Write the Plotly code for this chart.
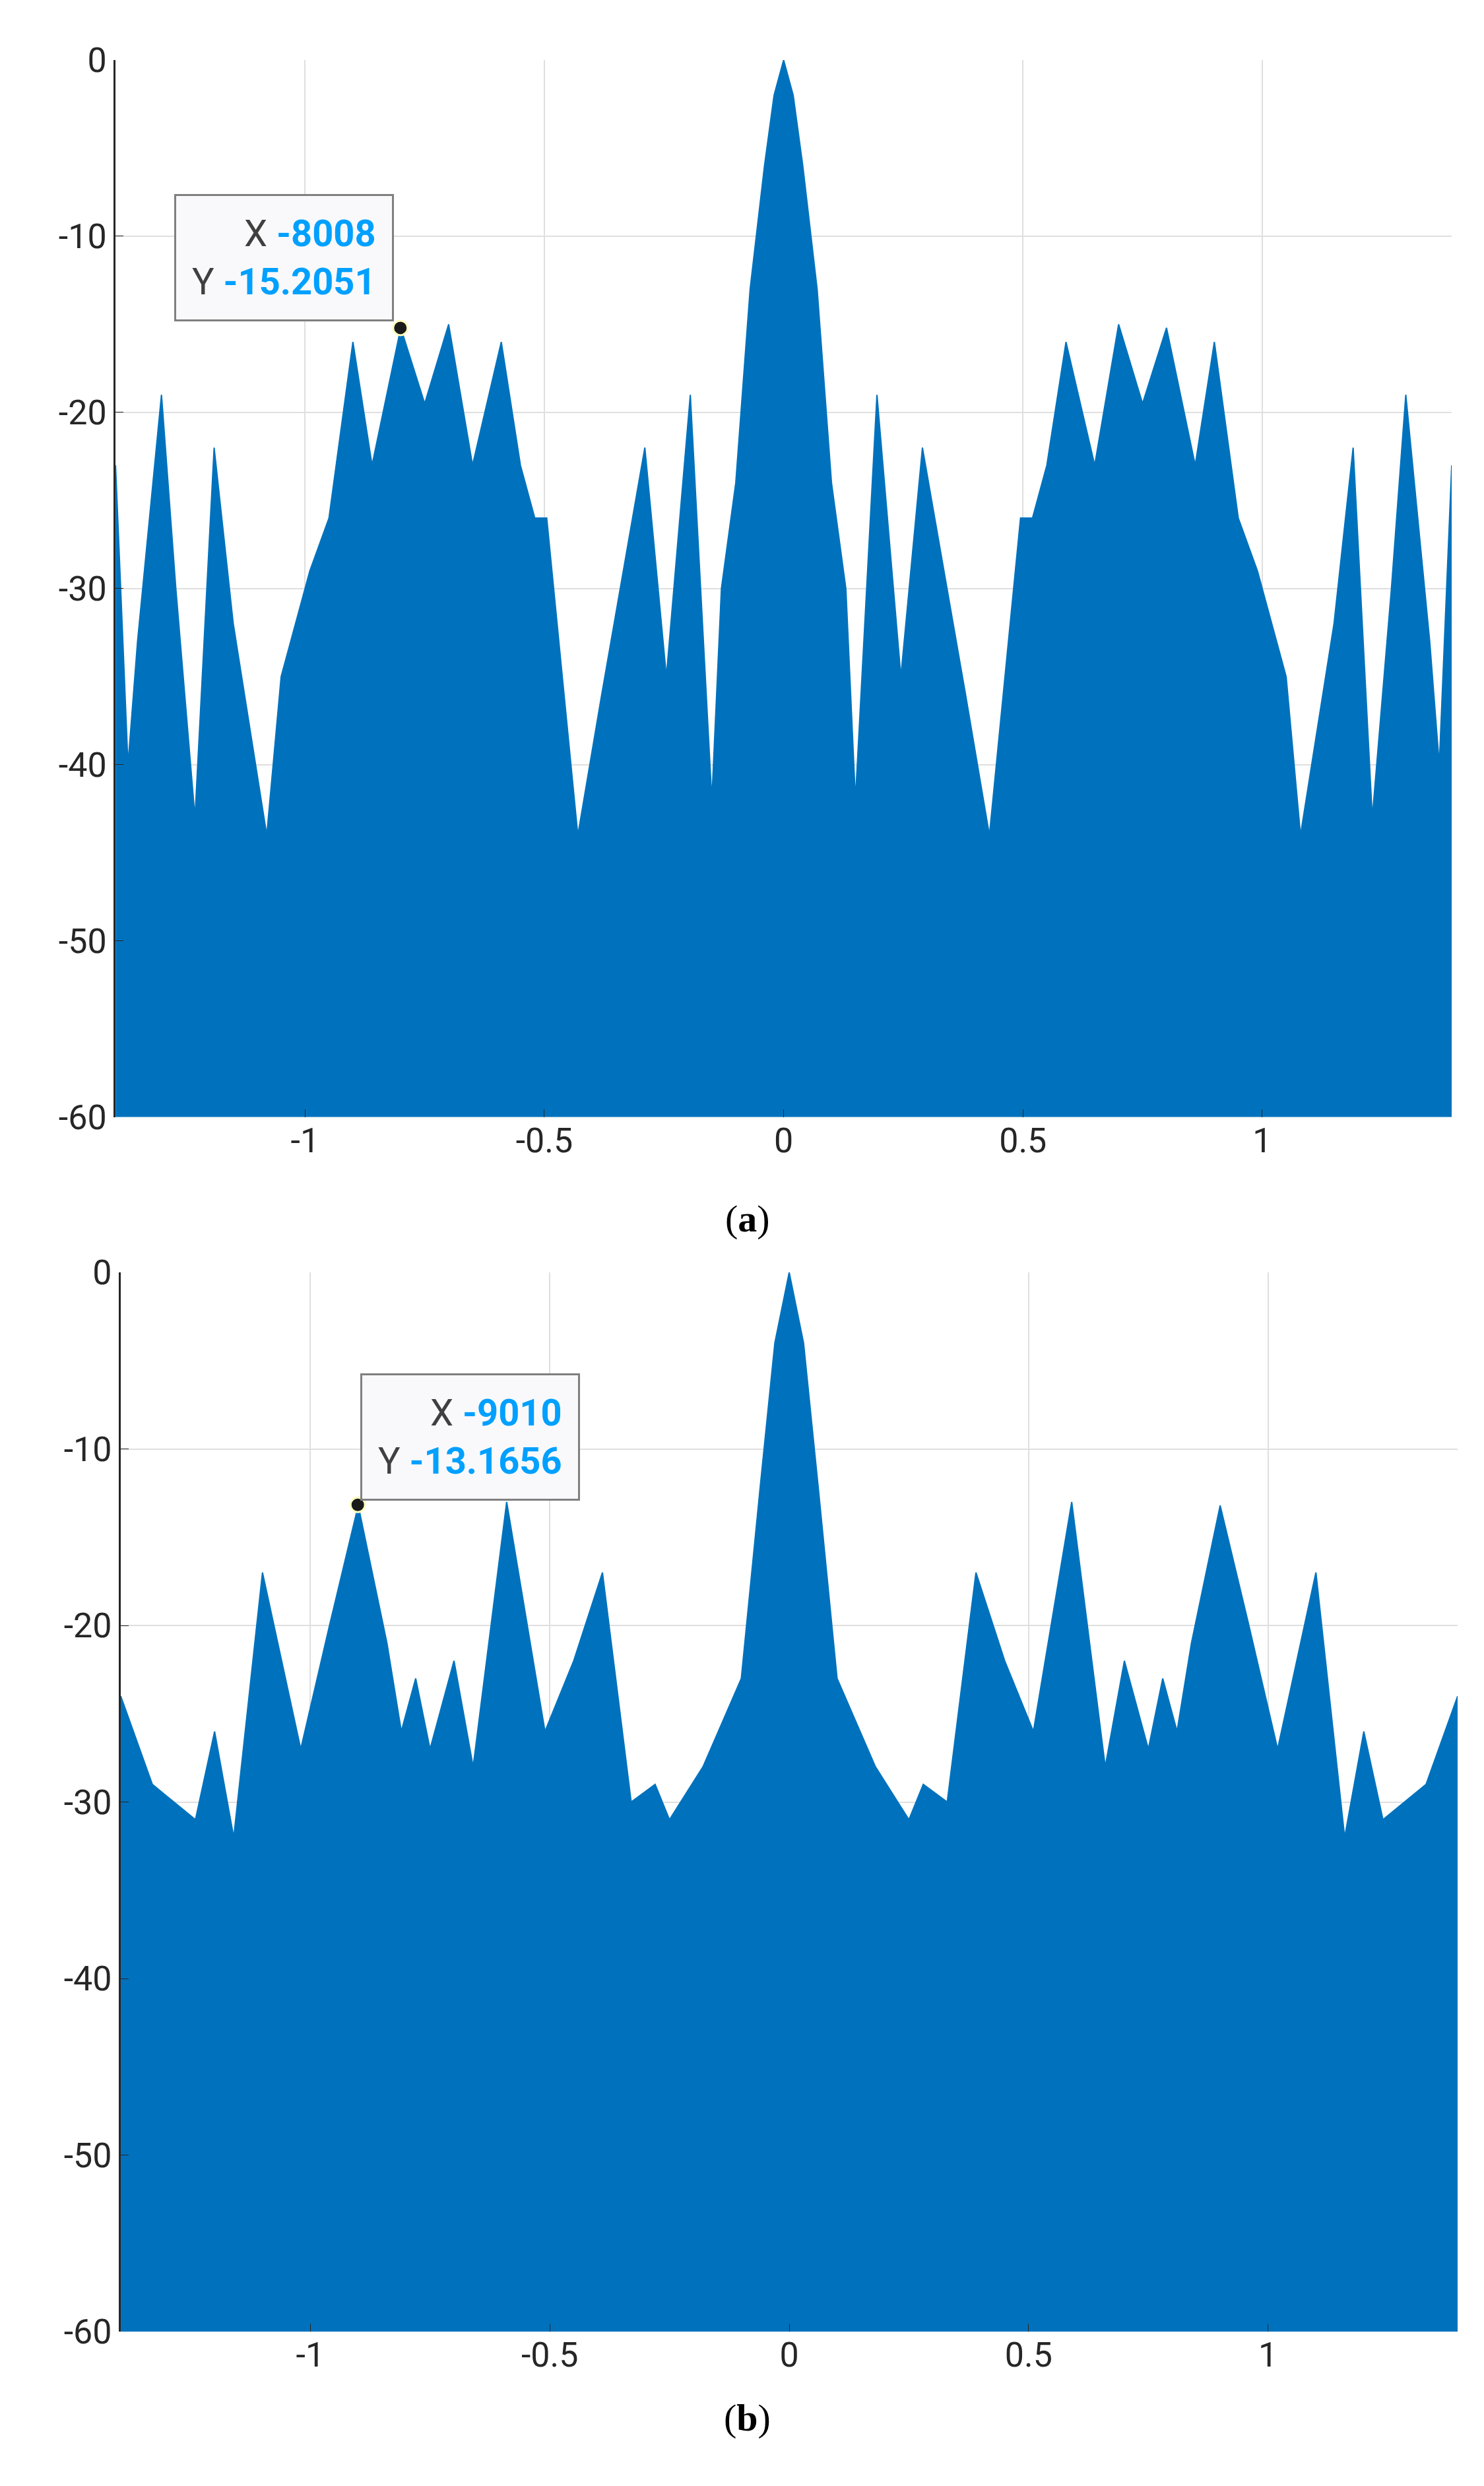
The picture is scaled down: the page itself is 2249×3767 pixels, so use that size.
import plotly.graph_objects as go

# Panel (a): upper envelope of the spectrum (normalised frequency, dB)
a_x = [-1.396, -1.37, -1.35, -1.30, -1.27, -1.23, -1.19, -1.15, -1.08, -1.05, -0.99, -0.95, -0.92,
       -0.90, -0.86, -0.80, -0.75, -0.70, -0.65, -0.59, -0.55, -0.52, -0.495, -0.43, -0.38,
       -0.29, -0.245, -0.195, -0.15, -0.13, -0.10, -0.07, -0.04, -0.02, 0.0,
       0.02, 0.04, 0.07, 0.10, 0.13, 0.15, 0.195, 0.245, 0.29, 0.38, 0.43, 0.495, 0.52, 0.55,
       0.59, 0.65, 0.70, 0.75, 0.80, 0.86, 0.90, 0.92, 0.95, 0.99, 1.05, 1.08, 1.15, 1.19,
       1.23, 1.27, 1.30, 1.35, 1.37, 1.396]
a_y = [-23, -40, -33, -19, -30, -43, -22, -32, -44, -35, -29, -26, -20,
       -16, -23, -15.2, -19.5, -15, -23, -16, -23, -26, -26, -44, -36,
       -22, -35, -19, -42, -30, -24, -13, -6, -2, 0,
       -2, -6, -13, -24, -30, -42, -19, -35, -22, -36, -44, -26, -26, -23,
       -16, -23, -15, -19.5, -15.2, -23, -16, -20, -26, -29, -35, -44, -32, -22,
       -43, -30, -19, -33, -40, -23]

# Panel (b): upper envelope
b_x = [-1.396, -1.33, -1.24, -1.20, -1.16, -1.10, -1.02, -0.96, -0.90, -0.84, -0.81, -0.78, -0.75,
       -0.70, -0.66, -0.59, -0.51, -0.45, -0.39, -0.33, -0.28, -0.25, -0.18, -0.10, -0.06,
       -0.03, 0.0, 0.03, 0.06, 0.10, 0.18, 0.25, 0.28, 0.33, 0.39, 0.45, 0.51, 0.59, 0.66,
       0.70, 0.75, 0.78, 0.81, 0.84, 0.90, 0.96, 1.02, 1.10, 1.16, 1.20, 1.24, 1.33, 1.396]
b_y = [-24, -29, -31, -26, -32, -17, -27, -20, -13.2, -21, -26, -23, -27,
       -22, -28, -13, -26, -22, -17, -30, -29, -31, -28, -23, -12,
       -4, 0, -4, -12, -23, -28, -31, -29, -30, -17, -22, -26, -13, -28,
       -22, -27, -23, -26, -21, -13.2, -20, -27, -17, -32, -26, -31, -29, -24]

x_ticks = [-1, -0.5, 0, 0.5, 1]
x_labels = ['-1', '-0.5', '0', '0.5', '1']
y_ticks = [0, -10, -20, -30, -40, -50, -60]
y_labels = ['0', '-10', '-20', '-30', '-40', '-50', '-60']

# data tips
tip_a = (-0.8008, -15.2051, '-8008', '-15.2051')
tip_b = (-0.9010, -13.1656, '-9010', '-13.1656')

blue = '#0072BD'
fig = go.Figure()

for i, (xs, ys) in enumerate([(a_x, a_y), (b_x, b_y)], start=1):
    xa = 'x' if i == 1 else 'x2'
    ya = 'y' if i == 1 else 'y2'
    fig.add_trace(go.Scatter(x=xs, y=[-60] * len(xs), mode='lines', line=dict(width=0),
                             xaxis=xa, yaxis=ya, showlegend=False, hoverinfo='skip'))
    fig.add_trace(go.Scatter(x=xs, y=ys, mode='lines', line=dict(color=blue, width=2),
                             fill='tonexty', fillcolor=blue, xaxis=xa, yaxis=ya, showlegend=False))

tip_style = dict(showarrow=False, bgcolor='#F9F9FB', bordercolor='#808080', borderwidth=3,
                 borderpad=24, align='right',
                 font=dict(family='Roboto', size=56, color='#404040'))
for i, (tx, ty, lx, ly) in enumerate([tip_a, tip_b], start=1):
    xa = 'x' if i == 1 else 'x2'
    ya = 'y' if i == 1 else 'y2'
    fig.add_trace(go.Scatter(x=[tx], y=[ty], mode='markers', xaxis=xa, yaxis=ya, showlegend=False,
                             marker=dict(color='#1a1a1a', size=22, line=dict(color='#FFFFC0', width=3))))
    txt = ("X <b><span style='color:#00A0FF'>%s</span></b><br>"
           "Y <b><span style='color:#00A0FF'>%s</span></b>") % (lx, ly)
    if i == 1:
        fig.add_annotation(x=tx, y=ty, xref=xa, yref=ya, text=txt, xanchor='right', yanchor='bottom',
                           xshift=-10, yshift=10, **tip_style)
    else:
        fig.add_annotation(x=tx, y=ty, xref=xa, yref=ya, text=txt, xanchor='left', yanchor='bottom',
                           xshift=4, yshift=6, **tip_style)

fig.add_annotation(x=0.5, y=0.512, xref='paper', yref='paper', text='(<b>a</b>)', showarrow=False,
                   font=dict(family='Liberation Serif', size=58, color='black'))
fig.add_annotation(x=0.5, y=0.0125, xref='paper', yref='paper', text='(<b>b</b>)', showarrow=False,
                   font=dict(family='Liberation Serif', size=58, color='black'))

ax_common = dict(range=[-1.396, 1.396], tickvals=x_ticks, ticktext=x_labels, showgrid=True,
                 gridcolor='#DFDFDF', gridwidth=2, zeroline=False, ticks='inside', ticklen=12,
                 tickcolor='#262626', tickfont=dict(family='Roboto', size=52, color='#262626'),
                 showline=False)
ay_common = dict(range=[-60, 0], tickvals=y_ticks, ticktext=y_labels, showgrid=True,
                 gridcolor='#DFDFDF', gridwidth=2,
                 zeroline=False, ticks='inside', ticklen=12, tickcolor='#262626',
                 tickfont=dict(family='Roboto', size=52, color='#262626'),
                 showline=True, linecolor='#262626', linewidth=3)

fig.update_layout(
    width=2249, height=3767, plot_bgcolor='white', paper_bgcolor='white',
    margin=dict(l=0, r=0, t=0, b=0),
    xaxis=dict(domain=[0.0743, 0.9747], anchor='y', **ax_common),
    yaxis=dict(domain=[0.5535, 0.9857], anchor='x', **ay_common),
    xaxis2=dict(domain=[0.0778, 0.9787], anchor='y2', **ax_common),
    yaxis2=dict(domain=[0.0569, 0.490], anchor='x2', **ay_common),
)

fig.write_html("out.html")
